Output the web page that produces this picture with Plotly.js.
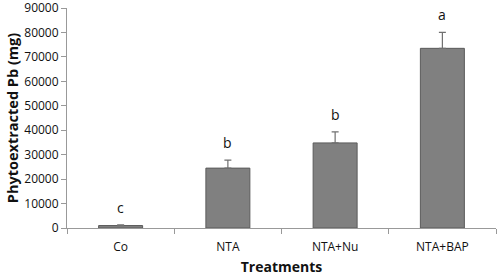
<!DOCTYPE html>
<html>
<head>
<meta charset="utf-8">
<script src="https://cdn.plot.ly/plotly-3.0.1.min.js"></script>
<style>html,body{margin:0;padding:0;background:#fff;}#chart{width:498px;height:276px;}</style>
</head>
<body>
<div id="chart"></div>
<script>
var categories = ["Co", "NTA", "NTA+Nu", "NTA+BAP"];
var values = [1000, 24500, 34800, 73500];
var errors = [300, 3300, 4500, 6500];
var letters = ["c", "b", "b", "a"];
var yTicks = [0, 10000, 20000, 30000, 40000, 50000, 60000, 70000, 80000, 90000];

var font = "Open Sans, Liberation Sans, sans-serif";

var trace = {
  type: "bar",
  x: categories,
  y: values,
  width: 0.41,
  marker: {color: "#808080", line: {color: "#5a5a5a", width: 1}},
  error_y: {type: "data", array: errors, symmetric: false, arrayminus: [0,0,0,0], color: "#707070", thickness: 1.2, width: 3.5},
  hoverinfo: "none"
};

var annotations = categories.map(function(c, i){
  return {x: c, y: values[i] + errors[i], xref: "x", yref: "y", text: letters[i], showarrow: false,
    yanchor: "bottom", yshift: 6, font: {family: font, size: 14, color: "#111"}};
});

var layout = {
  width: 498, height: 276,
  margin: {l: 67, r: 2, t: 8, b: 48},
  paper_bgcolor: "#fff", plot_bgcolor: "#fff",
  showlegend: false,
  font: {family: font, color: "#111"},
  xaxis: {
    type: "category",
    tickson: "boundaries",
    ticks: "outside", ticklen: 5, tickcolor: "#999",
    showline: true, linecolor: "#999", linewidth: 1,
    showgrid: false, zeroline: false,
    ticklabelstandoff: 8,
    tickfont: {family: font, size: 12, color: "#111"},
    title: {text: "Treatments", font: {family: font, size: 14, color: "#111", weight: "bold"}, standoff: 8}
  },
  yaxis: {
    range: [0, 90000],
    tickvals: yTicks,
    ticktext: yTicks.map(String),
    ticklabeloverflow: "allow",
    ticks: "outside", ticklen: 5, tickcolor: "#999",
    showline: true, linecolor: "#999", linewidth: 1,
    showgrid: false, zeroline: false,
    tickfont: {family: font, size: 12, color: "#111"},
    title: {text: "Phytoextracted Pb (mg)", font: {family: font, size: 14.5, color: "#111", weight: "bold"}, standoff: 2}
  },
  annotations: annotations
};

Plotly.newPlot("chart", [trace], layout, {staticPlot: true, displayModeBar: false});
</script>
</body>
</html>
